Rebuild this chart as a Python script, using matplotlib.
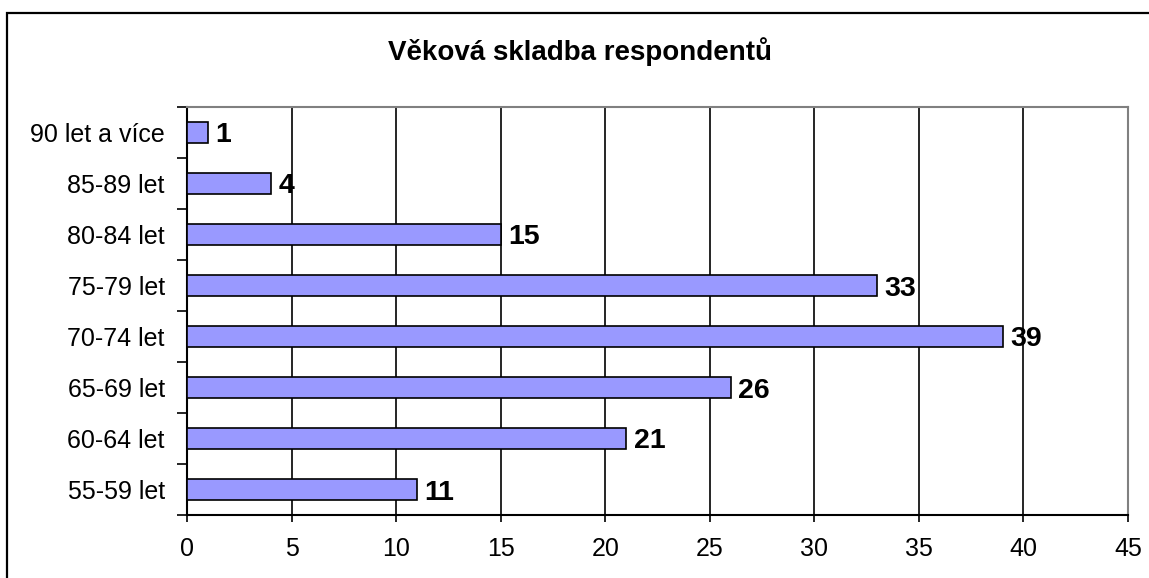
import matplotlib.pyplot as plt
from matplotlib.patches import Rectangle

# -----------------------------------
# DATA
# -----------------------------------

categories = ["55-59 let", "60-64 let", "65-69 let", "70-74 let",
              "75-79 let", "80-84 let", "85-89 let", "90 let a více"]
counts = [11, 21, 26, 39, 33, 15, 4, 1]
x_ticks = [0, 5, 10, 15, 20, 25, 30, 35, 40, 45]

plt.rcParams['font.family'] = ['Liberation Sans', 'DejaVu Sans']

fig = plt.figure(figsize=(11.49, 5.78), dpi=100)
ax = fig.add_axes([187 / 1149, 1 - 515 / 578, (1128 - 187) / 1149, (515 - 107) / 578])

# outer chart frame (open to the right and bottom like the reference crop)
fig.patches.append(Rectangle((7 / 1149, -0.1), 1.2, 1 - 13 / 578 + 0.1,
                             transform=fig.transFigure, fill=False,
                             edgecolor="black", linewidth=1.6))

pos = range(len(categories))
ax.barh(pos, counts, height=0.41, color="#9999FF",
        edgecolor="black", linewidth=1.2, zorder=3)

# VALUES NEXT TO BARS
for i, value in enumerate(counts):
    ax.annotate(str(value), (value, i), xytext=(5.5, 0),
                textcoords="offset points", ha="left", va="center_baseline",
                fontsize=20.5, fontweight="bold", zorder=4)

ax.set_xlim(0, 45)
ax.set_ylim(-0.5, len(categories) - 0.5)
ax.set_xticks(x_ticks)
ax.xaxis.grid(True, color="black", linewidth=1.2, zorder=0)

ax.set_yticks(list(pos))
ax.set_yticklabels(categories)
ax.set_yticks([i - 0.5 for i in range(len(categories) + 1)], minor=True)
ax.tick_params(axis="y", which="major", length=0, pad=16, labelsize=18)
ax.tick_params(axis="y", which="minor", length=7, width=1.2, direction="out")
ax.tick_params(axis="x", length=5, width=1.2, direction="out", pad=11, labelsize=18)

for side in ["left", "bottom"]:
    ax.spines[side].set_color("black")
    ax.spines[side].set_linewidth(1.5)
for side in ["top", "right"]:
    ax.spines[side].set_color("#808080")
    ax.spines[side].set_linewidth(1.5)

fig.text(580 / 1149, 1 - 52 / 578, "Věková skladba respondentů",
         ha="center", va="center", fontsize=20, fontweight="bold")

plt.savefig("out.png", dpi=100)
